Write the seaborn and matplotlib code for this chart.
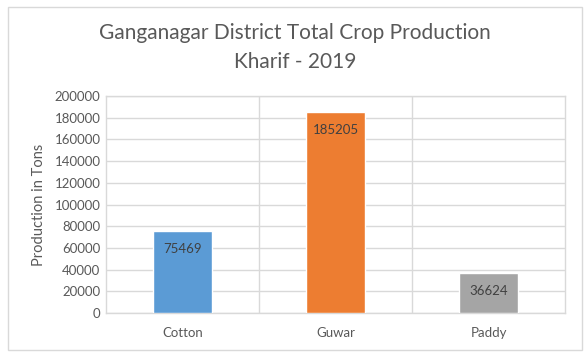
import matplotlib
matplotlib.use("Agg")
import matplotlib.pyplot as plt
from matplotlib.patches import Rectangle
import seaborn as sns
import pandas as pd

# Chart data
crops = ["Cotton", "Guwar", "Paddy"]
production = [75469, 185205, 36624]
bar_colors = ["#5B9BD5", "#ED7D31", "#A5A5A5"]
y_ticks = list(range(0, 200001, 20000))

TEXT = "#595959"
GRID = "#D9D9D9"

sns.set_theme(style="white")
plt.rcParams["font.family"] = ["Lato", "DejaVu Sans"]

df = pd.DataFrame({"crop": crops, "production": production})

fig = plt.figure(figsize=(5.88, 3.58), dpi=100)
ax = fig.add_axes([106 / 588, 1 - 313 / 358, (565 - 106) / 588, (313 - 96) / 358])

sns.barplot(data=df, x="crop", y="production", hue="crop", palette=bar_colors,
            width=0.39, saturation=1, legend=False, ax=ax, zorder=3)

# Excel-style grid: horizontal lines at ticks, vertical lines between categories
ax.set_ylim(0, 200000)
ax.set_xlim(-0.5, len(crops) - 0.5)
ax.set_yticks(y_ticks)
ax.set_yticklabels([str(t) for t in y_ticks])
ax.yaxis.grid(True, color=GRID, linewidth=1, zorder=0)
for b in [0.5, 1.5]:
    ax.axvline(b, color=GRID, linewidth=1, zorder=0)
for s in ax.spines.values():
    s.set_color(GRID)
    s.set_linewidth(1)

ax.tick_params(axis="both", length=0, colors=TEXT, labelsize=9.5)
ax.tick_params(axis="x", pad=10)
ax.tick_params(axis="y", pad=4)
ax.set_xlabel("")
ax.set_ylabel("Production in Tons", color=TEXT, fontsize=10.5, labelpad=6)

for c in ax.containers:
    ax.bar_label(c, labels=[f"{int(v)}" for v in c.datavalues], padding=-17,
                 color="#404040", fontsize=9.5)

fig.text(0.502, 1 - 33 / 358, "Ganganagar District Total Crop Production",
         ha="center", va="center", fontsize=15, color=TEXT)
fig.text(0.502, 1 - 62 / 358, "Kharif - 2019",
         ha="center", va="center", fontsize=15, color=TEXT)

# chart border
fig.patches.append(Rectangle((8 / 588, 1 - 350 / 358), (582 - 8) / 588, (350 - 7) / 358,
                             transform=fig.transFigure, fill=False,
                             edgecolor=GRID, linewidth=1))

fig.savefig("out.png", dpi=100)
